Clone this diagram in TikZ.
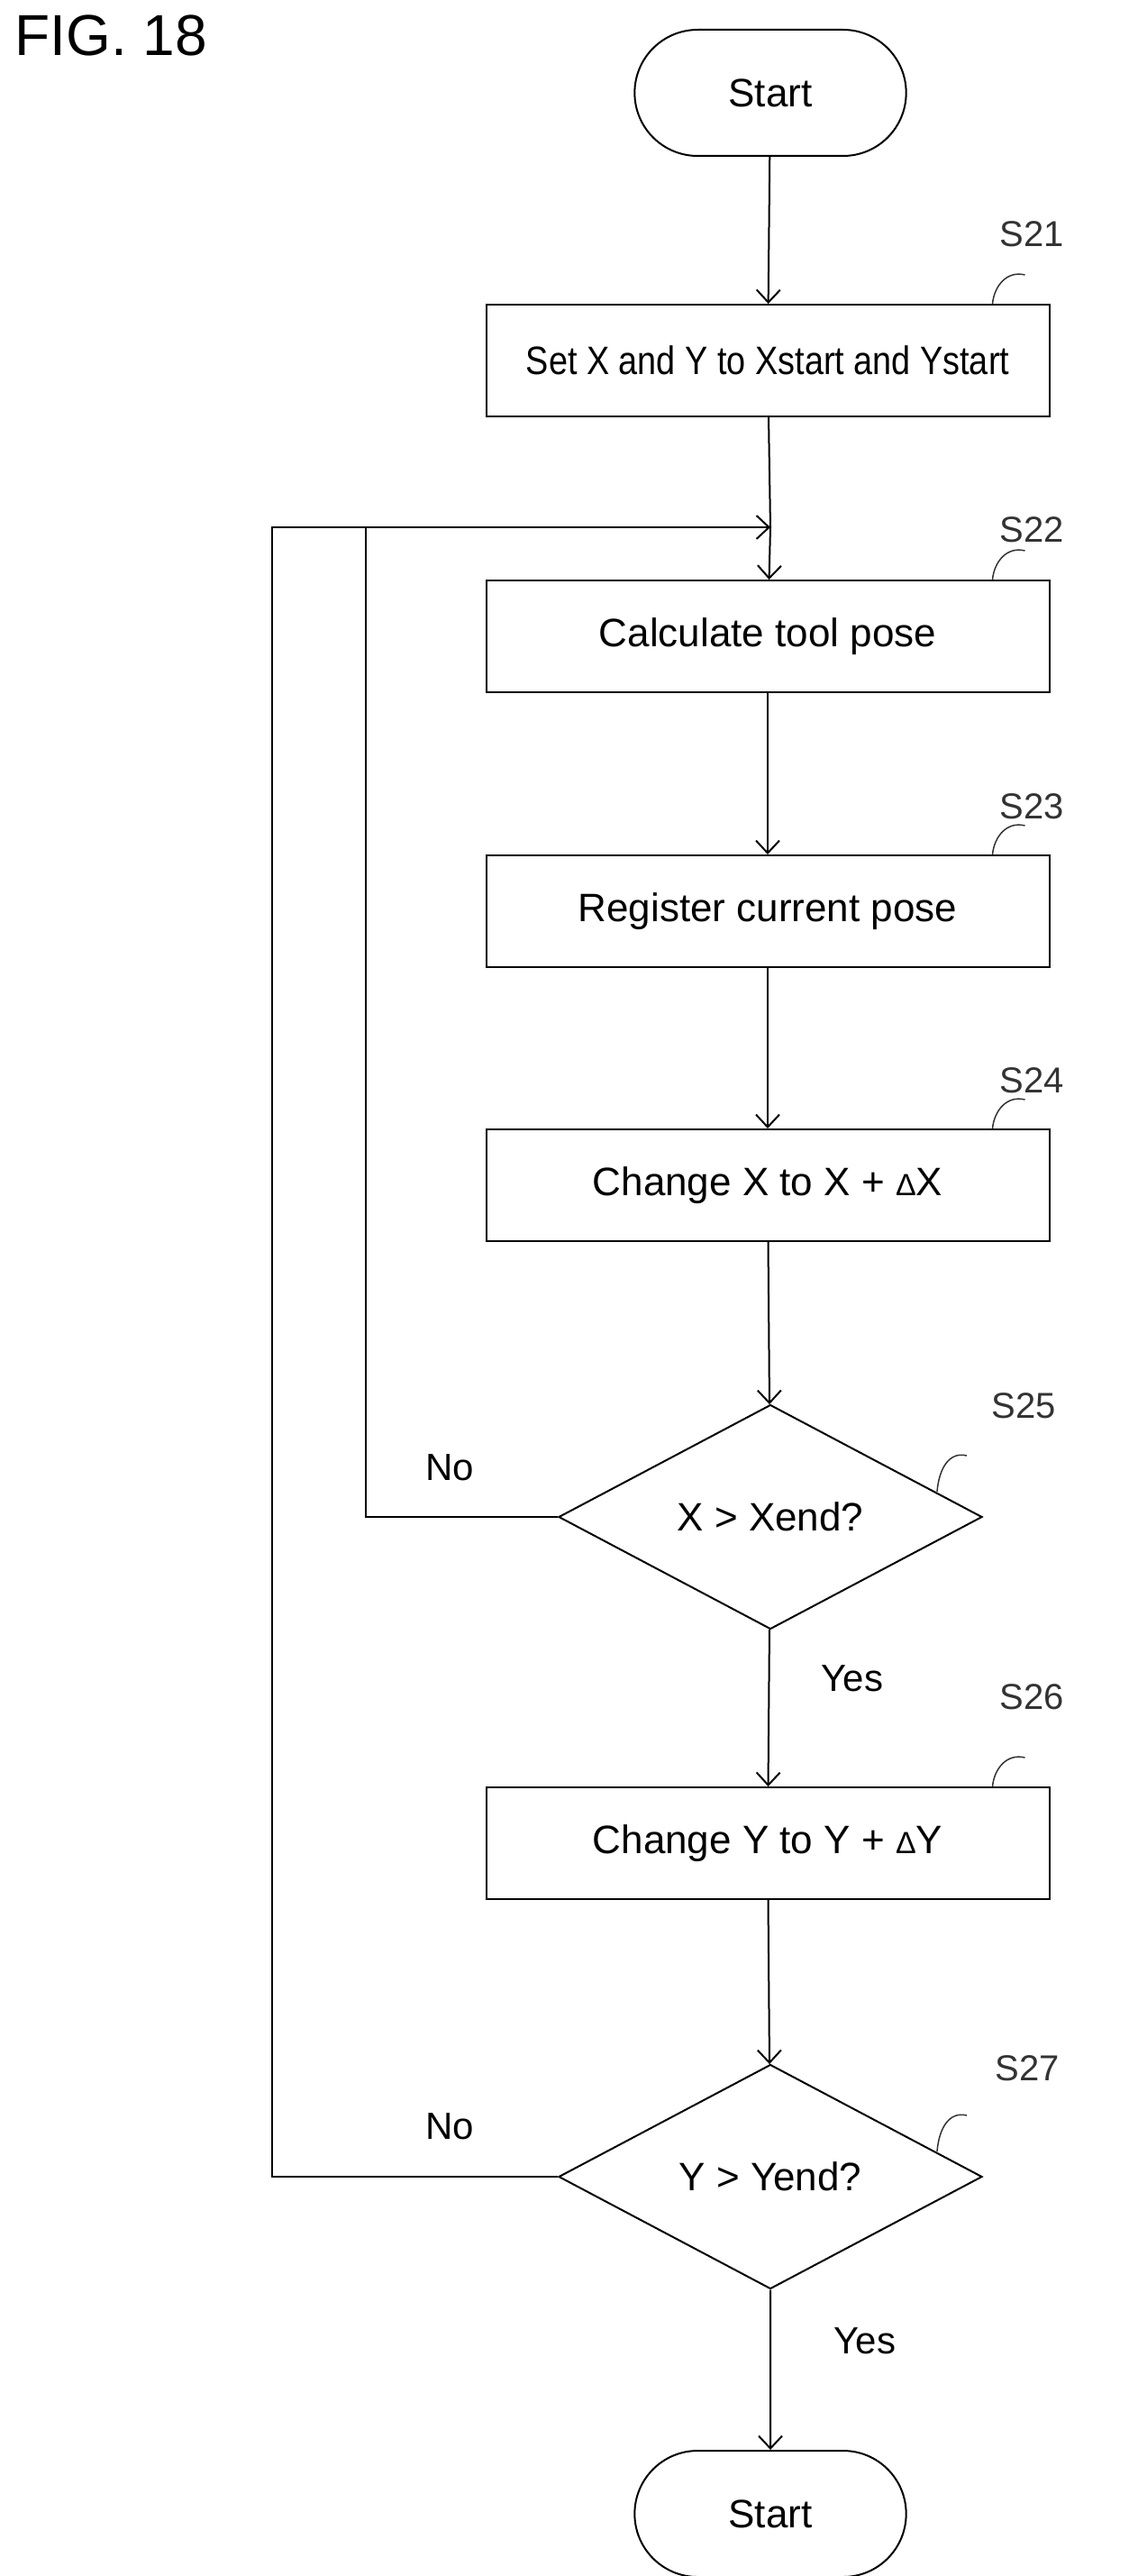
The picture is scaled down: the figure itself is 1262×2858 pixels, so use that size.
\documentclass[tikz,border=0pt]{standalone}
\usepackage{fontspec}
\setmainfont{Liberation Sans}
\usetikzlibrary{shapes.geometric,shapes.misc,arrows.meta}
\newcommand{\dlt}{{\fontsize{34}{40}\selectfont Δ}}
\begin{document}
\begin{tikzpicture}[x=1pt,y=-1pt,
  line width=2pt,
  arr/.style={-{Straight Barb[length=14pt,width=26pt,line width=2pt]}},
  box/.style={draw,rectangle,minimum width=625pt,minimum height=124pt,inner sep=0pt,font=\fontsize{44}{50}\selectfont},
  term/.style={draw,rounded rectangle,minimum width=308pt,minimum height=140pt,font=\fontsize{44}{50}\selectfont},
  dia/.style={draw,diamond,aspect=1.89,minimum width=470pt,minimum height=249pt,inner sep=0pt,font=\fontsize{44}{50}\selectfont},
  lab/.style={font=\fontsize{40}{46}\selectfont,color=black!80},
  ldr/.style={line width=1.5pt,color=black!80},
  txt/.style={font=\fontsize{42}{48}\selectfont}]
\useasboundingbox (0,0) rectangle (1262,2858);
\node[anchor=north west,font=\fontsize{64}{70}\selectfont] (fig) at (12,12) {FIG. 18};
\node[term] (st) at (855,103) {Start};
\node[box] (s21) at (852,400) {\scalebox{0.86}[1]{Set X and Y to Xstart and Ystart}};
\node[box] (s22) at (852,706) {Calculate tool pose};
\node[box] (s23) at (852,1011) {Register current pose};
\node[box] (s24) at (852,1315) {Change X to X + \dlt X};
\node[dia] (s25) at (855,1683) {X > Xend?};
\node[box] (s26) at (852,2045) {Change Y to Y + \dlt Y};
\node[dia] (s27) at (855,2415) {Y > Yend?};
\node[term] (en) at (855,2789) {Start};
\coordinate (m) at (855,585);
\coordinate (a) at (406,585);
\coordinate (b) at (302,585);
\draw[arr] (st) -- (s21);
\draw (s21) -- (m);
\draw[arr] (m) -- (s22);
\draw[arr] (s22) -- (s23);
\draw[arr] (s23) -- (s24);
\draw[arr] (s24) -- (s25);
\draw[arr] (s25) -- (s26);
\draw[arr] (s26) -- (s27);
\draw[arr] (s27) -- (en);
\draw (s25.west) -| (a);
\draw[arr] (s27.west) -| (b) -- (m);
\node[txt] (no1) at (499,1628) {No};
\node[txt] (no2) at (499,2359) {No};
\node[txt] (y1) at (946,1862) {Yes};
\node[txt] (y2) at (960,2597) {Yes};
\node[lab] (ls21) at (1145,260) {S21};
\node[lab] (ls22) at (1145,588) {S22};
\node[lab] (ls23) at (1145,895) {S23};
\node[lab] (ls24) at (1145,1199) {S24};
\node[lab] (ls26) at (1145,1883) {S26};
\node[lab] (ls25) at (1136,1560) {S25};
\node[lab] (ls27) at (1140,2295) {S27};
\foreach \n in {s21,s22,s23,s24,s26}{
  \draw[ldr] ([xshift=-64pt]\n.north east) .. controls +(2,-20) and +(-20,-5) .. ([xshift=-28pt,yshift=32pt]\n.north east);
}
\draw[ldr] (1040,1655) .. controls +(2,-25) and +(-20,-5) .. (1073,1615);
\draw[ldr] (1040,2387) .. controls +(2,-25) and +(-20,-5) .. (1073,2347);
\end{tikzpicture}
\end{document}
